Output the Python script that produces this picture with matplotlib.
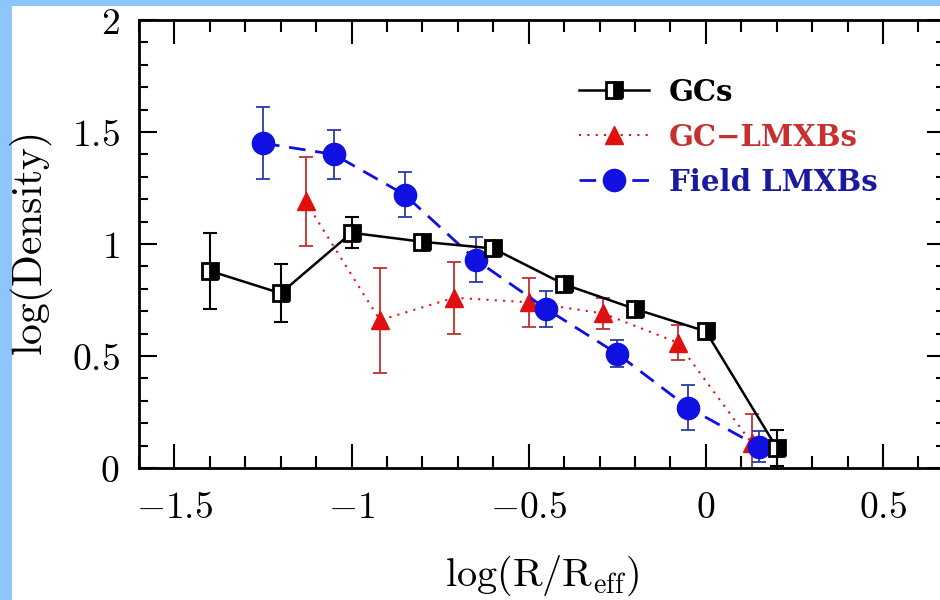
import matplotlib
matplotlib.use("Agg")
import matplotlib.pyplot as plt
from matplotlib.legend_handler import HandlerLine2D
from matplotlib.patches import Rectangle
from matplotlib.ticker import MultipleLocator, FuncFormatter

plt.rcParams["mathtext.fontset"] = "cm"
plt.rcParams["font.family"] = ["DejaVu Serif"]

# GCs
gc_x = [-1.40, -1.20, -1.00, -0.80, -0.60, -0.40, -0.20, 0.00, 0.20]
gc_y = [0.88, 0.78, 1.05, 1.01, 0.98, 0.82, 0.71, 0.61, 0.09]
gc_err = [0.17, 0.13, 0.07, 0.03, 0.03, 0.03, 0.03, 0.03, 0.08]

# GC-LMXBs
gcl_x = [-1.13, -0.92, -0.71, -0.50, -0.29, -0.08, 0.13]
gcl_y = [1.19, 0.66, 0.76, 0.74, 0.69, 0.56, 0.11]
gcl_err = [0.20, 0.235, 0.16, 0.11, 0.07, 0.08, 0.13]

# Field LMXBs
fl_x = [-1.25, -1.05, -0.85, -0.65, -0.45, -0.25, -0.05, 0.15]
fl_y = [1.45, 1.40, 1.22, 0.93, 0.71, 0.51, 0.27, 0.095]
fl_err = [0.16, 0.11, 0.10, 0.10, 0.08, 0.06, 0.10, 0.07]

x_ticks = [-1.5, -1.0, -0.5, 0.0, 0.5]
y_ticks = [0.0, 0.5, 1.0, 1.5, 2.0]


class LeftMarker(HandlerLine2D):
    #marker sits at the left end of the legend line, like the original
    def get_xdata(self, legend, xdescent, ydescent, width, height, fontsize):
        xdata, _ = super().get_xdata(legend, xdescent, ydescent, width, height, fontsize)
        return xdata, [xdata[0]]


fig = plt.figure(figsize=(9.4, 6), dpi=100)
fig.patch.set_facecolor("#8ec5fc")
fig.patches.append(Rectangle((12 / 940, 0), 1, 1 - 6 / 600, transform=fig.transFigure,
                             facecolor="white", edgecolor="none", zorder=-10))
ax = fig.add_axes([139 / 940, 1 - 468 / 600, 806 / 940, 448 / 600])
ax.set_facecolor("none")

ax.errorbar(fl_x, fl_y, yerr=fl_err, fmt="none", ecolor="#2a3aa8", elinewidth=1.3,
            capsize=5, capthick=1.3, zorder=3)
ax.plot(fl_x, fl_y, color="#1010e0", ls=(0, (6, 3.5)), lw=2.0, marker="o", ms=16,
        mfc="#1010e0", mec="#1010e0", label="Field LMXBs", zorder=4)

ax.errorbar(gcl_x, gcl_y, yerr=gcl_err, fmt="none", ecolor="#c03030", elinewidth=1.3,
            capsize=5, capthick=1.3, zorder=2)
ax.plot(gcl_x, gcl_y, color="#e01010", ls=(0, (1, 3)), lw=1.5, marker="^", ms=13,
        mfc="#e01010", mec="#e01010", label="GC\u2212LMXBs", zorder=2.5)

ax.errorbar(gc_x, gc_y, yerr=gc_err, fmt="none", ecolor="black", elinewidth=1.5,
            capsize=5, capthick=1.5, zorder=5)
ax.plot(gc_x, gc_y, color="black", lw=1.8, marker="s", ms=11, fillstyle="right",
        mfc="black", mfcalt="white", mec="black", mew=2, label="GCs", zorder=6)

ax.set_xlim(-1.6, 0.675)
ax.set_ylim(0, 2)
ax.set_xticks(x_ticks)
ax.set_yticks(y_ticks)
ax.xaxis.set_minor_locator(MultipleLocator(0.1))
ax.yaxis.set_minor_locator(MultipleLocator(0.1))
fmt = FuncFormatter(lambda v, p: f"${v:g}$")
ax.xaxis.set_major_formatter(fmt)
ax.yaxis.set_major_formatter(fmt)

for s in ax.spines.values():
    s.set_linewidth(2)
ax.tick_params(axis="both", which="both", direction="in", top=True, right=True,
               labelsize=27, width=1.5)
ax.tick_params(axis="x", which="major", length=17, pad=16)
ax.tick_params(axis="x", which="minor", length=8.5)
ax.tick_params(axis="y", which="major", length=13, pad=14)
ax.tick_params(axis="y", which="minor", length=6.5)

ax.set_xlabel(r"$\mathrm{log(R/R_{eff})}$", fontsize=29, labelpad=20)
ax.set_ylabel(r"$\mathrm{log(Density)}$", fontsize=30, labelpad=12)

h, l = ax.get_legend_handles_labels()
order = [2, 1, 0]
leg = ax.legend([h[i] for i in order], [l[i] for i in order], loc="upper left",
                bbox_to_anchor=(0.513, 0.93), frameon=False, fontsize=21,
                handlelength=2.4, handletextpad=0.7, labelspacing=0.55,
                handler_map={plt.Line2D: LeftMarker()})
for t, c in zip(leg.get_texts(), ["black", "#c83030", "#1a1aa0"]):
    t.set_color(c)
    t.set_fontweight("bold")

fig.savefig("out.png", dpi=100, facecolor=fig.get_facecolor())
